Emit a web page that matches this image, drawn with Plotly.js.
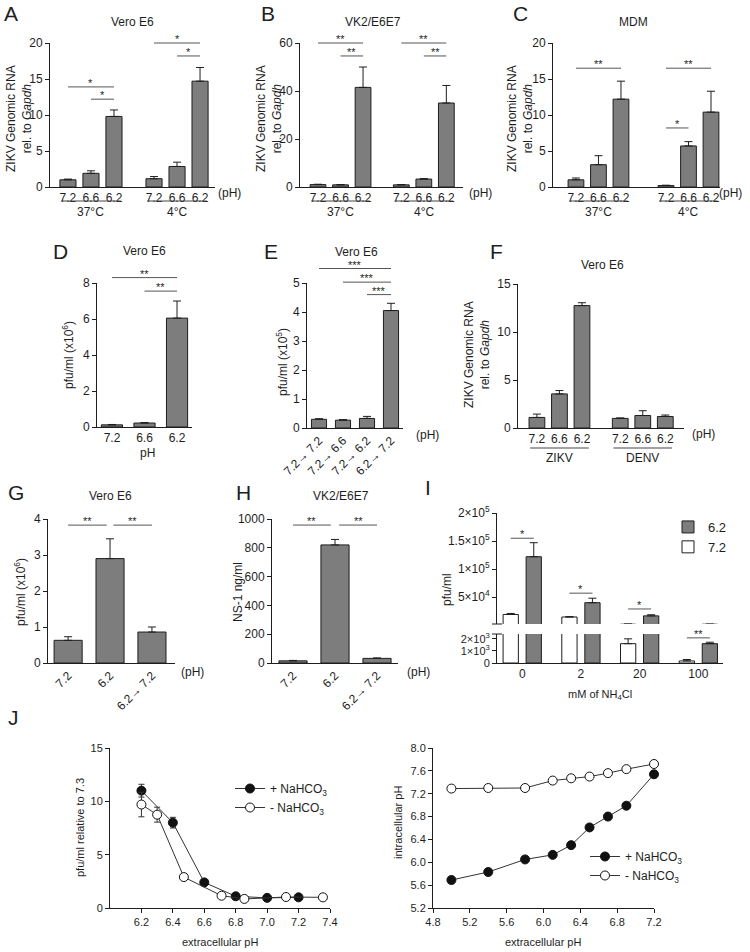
<!DOCTYPE html>
<html><head><meta charset="utf-8">
<script src="https://cdn.plot.ly/plotly-3.0.1.min.js"></script>
<style>body{margin:0;background:#fff}#chart{width:750px;height:952px}</style>
</head><body><div id="chart"></div>
<script>
// ================= DATA =================
const phLabels = ['7.2', '6.6', '6.2'];
const tempGroups = ['37°C', '4°C'];
const virusGroups = ['ZIKV', 'DENV'];

const A_values = [1.0, 1.9, 9.8, 1.15, 2.85, 14.7];
const A_errors = [0.1, 0.35, 0.9, 0.3, 0.6, 1.9];
const B_values = [1.0, 0.9, 41.5, 0.9, 3.3, 35.0];
const B_errors = [0.15, 0.1, 8.5, 0.1, 0.2, 7.3];
const C_values = [1.0, 3.1, 12.2, 0.2, 5.7, 10.4];
const C_errors = [0.25, 1.25, 2.5, 0.05, 0.6, 2.9];

const D_labels = ['7.2', '6.6', '6.2'];
const D_values = [0.12, 0.22, 6.05];
const D_errors = [0.02, 0.03, 0.95];

const E_labels = ['7.2\u2192 7.2', '7.2\u2192 6.6', '7.2\u2192 6.2', '6.2\u2192 7.2'];
const E_values = [0.30, 0.27, 0.33, 4.05];
const E_errors = [0.02, 0.02, 0.07, 0.25];

const F_values = [1.1, 3.55, 12.75, 1.0, 1.3, 1.2];
const F_errors = [0.35, 0.35, 0.3, 0.05, 0.5, 0.15];

const G_labels = ['7.2', '6.2', '6.2\u2192 7.2'];
const G_values = [0.63, 2.9, 0.86];
const G_errors = [0.1, 0.55, 0.14];

const H_labels = ['7.2', '6.2', '6.2\u2192 7.2'];
const H_values = [15, 820, 32];
const H_errors = [3, 38, 3];

const I_conc = ['0', '2', '20', '100'];
const I_ph62 = [122000, 40000, 16500, 1600];
const I_ph62_err = [25000, 8000, 2000, 120];
const I_ph72 = [19000, 14500, 1600, 170];
const I_ph72_err = [1800, 600, 400, 120];

const J1_x_plus = [6.2, 6.4, 6.6, 6.8, 7.0, 7.2];
const J1_y_plus = [11.0, 8.0, 2.4, 1.1, 0.95, 1.0];
const J1_err_plus = [0.6, 0.5, 0.1, 0.05, 0.05, 0.05];
const J1_x_minus = [6.2, 6.3, 6.47, 6.71, 6.855, 7.12, 7.355];
const J1_y_minus = [9.7, 8.75, 2.9, 1.15, 0.85, 1.03, 1.0];
const J1_err_minus = [1.15, 0.7, 0.2, 0.05, 0.2, 0.05, 0.05];

const J2_x = [5.0, 5.4, 5.8, 6.1, 6.3, 6.5, 6.7, 6.9, 7.2];
const J2_y_plus = [5.69, 5.83, 6.05, 6.13, 6.30, 6.61, 6.80, 6.99, 7.54];
const J2_y_minus = [7.29, 7.30, 7.30, 7.43, 7.47, 7.50, 7.56, 7.63, 7.72];

// significance brackets: [from bar, to bar, height, label]
const A_sig = [[0, 2, 13.9, '*'], [1, 2, 12.2, '*'], [3, 5, 20, '*'], [4, 5, 18.2, '*']];
const B_sig = [[0, 2, 60, '**'], [1, 2, 54.6, '**'], [3, 5, 60, '**'], [4, 5, 54.6, '**']];
const C_sig = [[0, 2, 16.5, '**'], [3, 5, 16.5, '**'], [3, 4, 8.2, '*']];
const D_sig = [[0, 2, 8.3, '**'], [1, 2, 7.55, '**']];
const E_sig = [[0, 3, 5.5, '***'], [1, 3, 5.03, '***'], [2, 3, 4.6, '***']];
const G_sig = [[0, 0.92, 3.83, '**'], [1.08, 2, 3.83, '**']];
const H_sig = [[0, 0.9, 958, '**'], [1.1, 2, 958, '**']];
const I_sig_upper = [[-0.196, 0.196, 155000, '*'], [0.804, 1.196, 57000, '*'], [1.804, 2.196, 28800, '*']];
const I_sig_lower = [[2.804, 3.196, 2080, '**']];

// ================= LAYOUT HELPERS =================
const FONT = 'Liberation Sans, Arial, Helvetica, sans-serif';
const W = 750, H = 952;
const INK = '#1e1e1e';
const px = x => x / W, py = y => 1 - y / H;
const sfx = n => (n === 1 ? '' : String(n));
const layout = {
  width: W, height: H, margin: {l: 0, r: 0, t: 0, b: 0},
  paper_bgcolor: '#fff', plot_bgcolor: 'rgba(0,0,0,0)',
  font: {family: FONT, size: 12, color: INK},
  showlegend: true, annotations: [], shapes: [], bargap: 0
};
const data = [];

function xAxis(id, box, yid, opt) {
  layout['xaxis' + id] = Object.assign({
    domain: [px(box[0]), px(box[1])], anchor: 'y' + yid,
    showgrid: false, zeroline: false, showline: true, linecolor: INK, linewidth: 1,
    ticks: '', tickfont: {family: FONT, size: 12, color: INK}, fixedrange: true
  }, opt);
}
function yAxis(id, top, bot, xid, opt) {
  layout['yaxis' + id] = Object.assign({
    domain: [py(bot), py(top)], anchor: 'x' + xid,
    showgrid: false, zeroline: false, showline: true, linecolor: INK, linewidth: 1,
    ticks: 'outside', ticklen: 4, tickcolor: INK, tickwidth: 1,
    tickfont: {family: FONT, size: 12, color: INK}, fixedrange: true
  }, opt);
}
function txt(x, y, text, size, extra) {
  layout.annotations.push(Object.assign({
    xref: 'paper', yref: 'paper', x: px(x), y: py(y), text: text, showarrow: false,
    font: {family: FONT, size: size || 12, color: INK}, xanchor: 'center', yanchor: 'middle'
  }, extra || {}));
}
function at(pos, a) {
  const i = Math.floor(a), f = a - i;
  if (f === 0 || i + 1 >= pos.length) return pos[i] !== undefined ? pos[i] : a;
  return pos[i] + f * (pos[i + 1] - pos[i]);
}
function sigLine(xid, yid, xr, yr, xa, xb, h, lab) {
  const fx = v => (v - xr[0]) / (xr[1] - xr[0]);
  const fy = v => (v - yr[0]) / (yr[1] - yr[0]);
  layout.shapes.push({type: 'line', xref: 'x' + xid + ' domain', yref: 'y' + yid + ' domain',
    x0: fx(xa), x1: fx(xb), y0: fy(h), y1: fy(h), line: {color: '#555', width: 1}});
  layout.annotations.push({xref: 'x' + xid + ' domain', yref: 'y' + yid + ' domain', x: fx((xa + xb) / 2), y: fy(h),
    text: lab, showarrow: false, xanchor: 'center', yanchor: 'bottom', yshift: -4,
    font: {family: FONT, size: 11, color: INK}});
}
function barTrace(xid, yid, xs, ys, errs, width, extra) {
  data.push(Object.assign({
    type: 'bar', x: xs, y: ys, xaxis: 'x' + xid, yaxis: 'y' + yid, width: width,
    marker: {color: '#7d7d7d', line: {color: INK, width: 1}},
    error_y: {type: 'data', symmetric: false, array: errs, arrayminus: errs.map(() => 0),
      color: INK, thickness: 1, width: 4},
    showlegend: false, hoverinfo: 'skip'
  }, extra || {}));
}
function groupedPositions(nGroups, perGroup, gap) {
  const p = [];
  for (let g = 0; g < nGroups; g++) for (let i = 0; i < perGroup; i++) p.push(g * gap + i);
  return p;
}
function barPanel(o) {
  const id = sfx(o.n);
  xAxis(id, o.box, id, {range: o.xr, tickvals: o.pos, ticktext: o.ticktext, tickangle: o.tickangle || 0});
  yAxis(id, o.box[2], o.box[3], id, {range: o.yr, tickvals: o.yt});
  barTrace(id, id, o.pos, o.values, o.errors, o.width);
  (o.sig || []).forEach(s => sigLine(id, id, o.xr, o.yr, at(o.pos, s[0]), at(o.pos, s[1]), s[2], s[3]));
  if (o.groups) {
    const per = o.perGroup;
    const fx = v => (v - o.xr[0]) / (o.xr[1] - o.xr[0]);
    o.groups.forEach((g, gi) => {
      const first = o.pos[gi * per], last = o.pos[gi * per + per - 1];
      layout.shapes.push({type: 'line', xref: 'x' + id + ' domain', yref: 'paper',
        x0: fx(first - 0.3), x1: fx(last + 0.3), y0: py(o.groupLineY), y1: py(o.groupLineY),
        line: {color: '#444', width: 1}});
      layout.annotations.push({xref: 'x' + id + ' domain', yref: 'paper', x: fx((first + last) / 2), y: py(o.groupLabelY),
        text: g, showarrow: false, xanchor: 'center', yanchor: 'middle', font: {family: FONT, size: 12, color: INK}});
    });
  }
}

// ================= PANELS A-C =================
const grpTicks = phLabels.concat(phLabels);
barPanel({n: 1, box: [50, 215, 43, 187], xr: [-0.78, 6.39], yr: [0, 20], yt: [0, 5, 10, 15, 20],
  pos: groupedPositions(2, 3, 3.74), values: A_values, errors: A_errors, ticktext: grpTicks, width: 0.7,
  sig: A_sig, groups: tempGroups, perGroup: 3, groupLineY: 201, groupLabelY: 212});
barPanel({n: 2, box: [300, 463, 43, 187], xr: [-0.8, 6.44], yr: [0, 60], yt: [0, 20, 40, 60],
  pos: groupedPositions(2, 3, 3.7), values: B_values, errors: B_errors, ticktext: grpTicks, width: 0.7,
  sig: B_sig, groups: tempGroups, perGroup: 3, groupLineY: 201, groupLabelY: 212});
barPanel({n: 3, box: [553, 720, 43, 187], xr: [-1.02, 6.4], yr: [0, 20], yt: [0, 5, 10, 15, 20],
  pos: groupedPositions(2, 3, 4.0), values: C_values, errors: C_errors, ticktext: grpTicks, width: 0.7,
  sig: C_sig, groups: tempGroups, perGroup: 3, groupLineY: 201, groupLabelY: 212});

// ================= PANELS D-F =================
barPanel({n: 4, box: [97, 192, 283, 427], xr: [-0.46, 2.46], yr: [0, 8], yt: [0, 2, 4, 6, 8],
  pos: D_labels.map((_, i) => i), values: D_values, errors: D_errors, ticktext: D_labels, width: 0.65, sig: D_sig});
barPanel({n: 5, box: [307, 403, 283, 428], xr: [-0.5, 3.5], yr: [0, 5], yt: [0, 1, 2, 3, 4, 5],
  pos: E_labels.map((_, i) => i), values: E_values, errors: E_errors, ticktext: E_labels, tickangle: -45,
  width: 0.63, sig: E_sig});
barPanel({n: 6, box: [518, 684, 284, 428], xr: [-0.84, 6.53], yr: [0, 15], yt: [0, 5, 10, 15],
  pos: groupedPositions(2, 3, 3.7), values: F_values, errors: F_errors, ticktext: grpTicks, width: 0.7,
  groups: virusGroups, perGroup: 3, groupLineY: 448, groupLabelY: 458});

// ================= PANELS G-H =================
barPanel({n: 7, box: [48, 175, 519, 663], xr: [-0.48, 2.55], yr: [0, 4], yt: [0, 1, 2, 3, 4],
  pos: G_labels.map((_, i) => i), values: G_values, errors: G_errors, ticktext: G_labels, tickangle: -45,
  width: 0.67, sig: G_sig});
barPanel({n: 8, box: [272, 398, 519, 663], xr: [-0.5, 2.5], yr: [0, 1000], yt: [0, 200, 400, 600, 800, 1000],
  pos: H_labels.map((_, i) => i), values: H_values, errors: H_errors, ticktext: H_labels, tickangle: -45,
  width: 0.67, sig: H_sig});

// ================= PANEL I (broken axis) =================
const I_pos = I_conc.map((_, i) => i);
const I_xr = [-0.43, 3.42];
const I_yrU = [2000, 200000], I_yrL = [0, 2400];
xAxis('9', [497, 723], '10', {range: I_xr, tickvals: I_pos, ticktext: I_conc});
yAxis('9', 513, 624, '9', {range: I_yrU, tickvals: [50000, 100000, 150000, 200000],
  ticktext: ['5×10<sup>4</sup>', '1×10<sup>5</sup>', '1.5×10<sup>5</sup>', '2×10<sup>5</sup>'],
  tickfont: {family: FONT, size: 12, color: INK}});
yAxis('10', 634, 663, '9', {range: I_yrL, tickvals: [0, 1000, 2000],
  ticktext: ['0', '1×10<sup>3</sup>', '2×10<sup>3</sup>'], tickfont: {family: FONT, size: 11, color: INK}});
['9', '10'].forEach(yid => {
  const upper = yid === '9';
  barTrace('9', yid, I_pos, I_ph62, I_ph62_err, 0.26,
    {offset: 0.066, name: '6.2', showlegend: upper, legend: 'legend'});
  barTrace('9', yid, I_pos, I_ph72, I_ph72_err, 0.26,
    {offset: -0.326, name: '7.2', showlegend: upper, legend: 'legend',
     marker: {color: '#ffffff', line: {color: INK, width: 1}}});
});
I_sig_upper.forEach(s => sigLine('9', '9', I_xr, I_yrU, s[0], s[1], s[2], s[3]));
I_sig_lower.forEach(s => sigLine('9', '10', I_xr, I_yrL, s[0], s[1], s[2], s[3]));
// axis break marks
[624, 634].forEach(y => layout.shapes.push({type: 'line', xref: 'paper', yref: 'paper',
  x0: px(492), x1: px(502), y0: py(y), y1: py(y), line: {color: INK, width: 1}}));
layout.legend = {x: px(668), y: py(512), xanchor: 'left', yanchor: 'top', bgcolor: 'rgba(0,0,0,0)',
  font: {family: FONT, size: 13, color: INK}, itemwidth: 30, tracegroupgap: 2};

// ================= PANEL J =================
const jTick = {family: FONT, size: 11, color: INK};
xAxis('11', [110, 330], '11', {range: [6.0, 7.4], tickvals: [6.2, 6.4, 6.6, 6.8, 7.0, 7.2, 7.4], tickformat: '.1f',
  ticks: 'outside', ticklen: 4, tickcolor: INK, tickfont: jTick});
yAxis('11', 748, 908, '11', {range: [0, 15], tickvals: [0, 5, 10, 15], tickfont: jTick});
xAxis('12', [433, 654], '12', {range: [4.8, 7.2], tickvals: [4.8, 5.2, 5.6, 6.0, 6.4, 6.8, 7.2], tickformat: '.1f',
  ticks: 'outside', ticklen: 4, tickcolor: INK, tickfont: jTick});
yAxis('12', 748, 908, '12', {range: [5.2, 8.0], tickvals: [5.2, 5.6, 6.0, 6.4, 6.8, 7.2, 7.6, 8.0], tickformat: '.1f', tickfont: jTick});

function lineTrace(xid, x, y, err, filled, name, legend) {
  const t = {type: 'scatter', mode: 'lines+markers', x: x, y: y, xaxis: 'x' + xid, yaxis: 'y' + xid,
    name: name, legend: legend, cliponaxis: false, hoverinfo: 'skip',
    line: {color: '#333', width: 1},
    marker: {size: 9, color: filled ? '#111' : '#fff', line: {color: '#111', width: 1}}};
  if (err) t.error_y = {type: 'data', array: err, color: '#333', thickness: 1, width: 3};
  data.push(t);
}
lineTrace('11', J1_x_plus, J1_y_plus, J1_err_plus, true, '+ NaHCO<sub>3</sub>', 'legend2');
lineTrace('11', J1_x_minus, J1_y_minus, J1_err_minus, false, '- NaHCO<sub>3</sub>', 'legend2');
lineTrace('12', J2_x, J2_y_plus, null, true, '+ NaHCO<sub>3</sub>', 'legend3');
lineTrace('12', J2_x, J2_y_minus, null, false, '- NaHCO<sub>3</sub>', 'legend3');
layout.legend2 = {x: px(230), y: py(774), xanchor: 'left', yanchor: 'top', bgcolor: 'rgba(0,0,0,0)',
  font: {family: FONT, size: 12, color: INK}, itemwidth: 30};
layout.legend3 = {x: px(585), y: py(842), xanchor: 'left', yanchor: 'top', bgcolor: 'rgba(0,0,0,0)',
  font: {family: FONT, size: 12, color: INK}, itemwidth: 30};

// ================= TEXT =================
[['A', 11, 14], ['B', 268, 14], ['C', 520, 14], ['D', 60, 252], ['E', 271, 252], ['F', 497, 252],
 ['G', 16, 492], ['H', 243, 492], ['I', 428, 488], ['J', 13, 717]].forEach(l => txt(l[1], l[2], l[0], 21));

txt(132, 22, 'Vero E6', 12); txt(373, 22, 'VK2/E6E7', 12); txt(633, 22, 'MDM', 12);
txt(144, 251, 'Vero E6', 12); txt(356, 252, 'Vero E6', 12); txt(602, 265, 'Vero E6', 12);
txt(110, 496, 'Vero E6', 12); txt(341, 496, 'VK2/E6E7', 12);

const rot = {textangle: -90};
const rnaTitle = 'ZIKV Genomic RNA<br>rel. to <i>Gapdh</i>';
txt(19, 119, rnaTitle, 12, rot); txt(269, 119, rnaTitle, 12, rot); txt(520, 119, rnaTitle, 12, rot);
txt(477, 355, rnaTitle, 12, rot);
txt(68, 355, 'pfu/ml (x10<sup>6</sup>)', 12, rot);
txt(282, 362, 'pfu/ml (x10<sup>5</sup>)', 12, rot);
txt(20, 592, 'pfu/ml (x10<sup>6</sup>)', 12, rot);
txt(238, 592, 'NS-1 ng/ml', 12, rot);
txt(447, 590, 'pfu/ml', 12, rot);
txt(80, 828, 'pfu/ml relative to 7.3', 11, rot);
txt(398, 822, 'intracellular pH', 11, rot);

txt(147, 453, 'pH', 12);
txt(600, 695, 'mM of NH<sub>4</sub>Cl', 11);
txt(220, 942, 'extracellular pH', 11);
txt(543, 942, 'extracellular pH', 11);
[[230, 193], [480, 193], [730, 193], [427, 435], [703, 434], [192, 672], [418, 672]].forEach(p => txt(p[0], p[1], '(pH)', 12));

Plotly.newPlot('chart', data, layout, {staticPlot: true, displayModeBar: false});
</script>
</body></html>
